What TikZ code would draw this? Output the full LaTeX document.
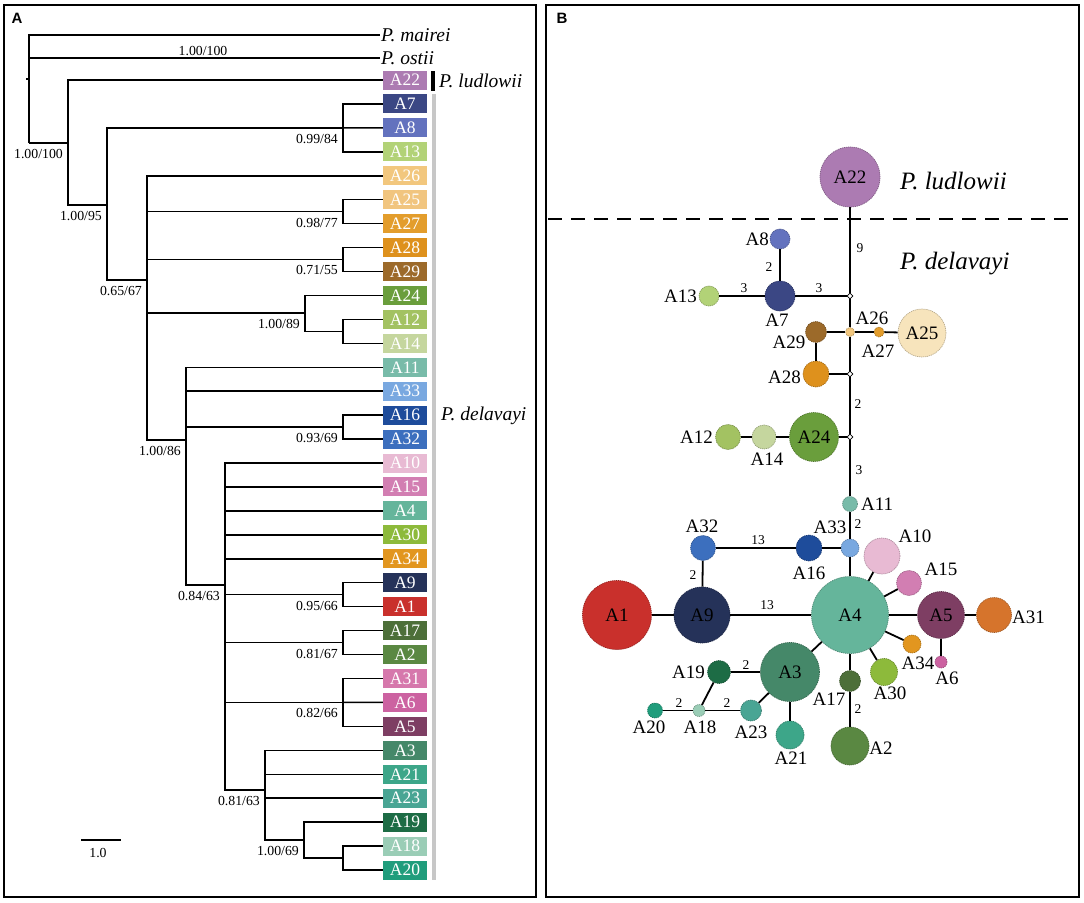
\documentclass[tikz,border=0pt]{standalone}
\usepackage{fontspec}
\setmainfont{Liberation Serif}
\newfontfamily\panelfont{Liberation Sans}
\usetikzlibrary{positioning,shapes.geometric}
% 单倍型颜色
\definecolor{c22}{HTML}{AC7BB2}
\definecolor{c7}{HTML}{3B4784}
\definecolor{c8}{HTML}{6372BE}
\definecolor{c13}{HTML}{B2D277}
\definecolor{c26}{HTML}{F2C77E}
\definecolor{c25}{HTML}{F7E4BC}
\definecolor{b25}{HTML}{F1C57F}
\definecolor{c27}{HTML}{E39D2C}
\definecolor{c28}{HTML}{DE911D}
\definecolor{c29}{HTML}{9C6A2A}
\definecolor{c24}{HTML}{6A9E3C}
\definecolor{c12}{HTML}{A3C262}
\definecolor{c14}{HTML}{C5D69E}
\definecolor{c11}{HTML}{78BBA9}
\definecolor{c33}{HTML}{79A8E0}
\definecolor{c16}{HTML}{1E4C9B}
\definecolor{c32}{HTML}{3C6FBE}
\definecolor{c10}{HTML}{E8BAD3}
\definecolor{c15}{HTML}{D27EB2}
\definecolor{c4}{HTML}{65B59B}
\definecolor{c30}{HTML}{8DBA3B}
\definecolor{c34}{HTML}{E2961F}
\definecolor{c9}{HTML}{253259}
\definecolor{c1}{HTML}{C9302C}
\definecolor{c17}{HTML}{4D6F39}
\definecolor{c2}{HTML}{5A8842}
\definecolor{c31}{HTML}{D6742C}
\definecolor{b31}{HTML}{D678AC}
\definecolor{c6}{HTML}{CC62A1}
\definecolor{c5}{HTML}{7E3E63}
\definecolor{c3}{HTML}{458869}
\definecolor{c21}{HTML}{3DA689}
\definecolor{c23}{HTML}{49A594}
\definecolor{c19}{HTML}{1D6C45}
\definecolor{c18}{HTML}{9ACDB6}
\definecolor{c20}{HTML}{209D7C}
\tikzset{
  tipbox/.style={minimum width=44pt, minimum height=19pt, inner sep=0pt, text=white, font=\fontsize{17.5}{17.5}\selectfont},
  bs/.style={anchor=east, xshift=-5pt, yshift=-11pt, inner sep=0pt, font=\fontsize{13.8}{14}\selectfont},
  sp/.style={anchor=west, inner sep=1pt, font=\fontsize{19.5}{19.5}\selectfont\itshape},
  bigsp/.style={anchor=west, inner sep=0pt, font=\fontsize{25}{25}\selectfont\itshape},
  hap/.style 2 args={circle, fill=#1, draw=#1!75!black, dash pattern=on 1.2pt off 0.8pt, line width=0.7pt, minimum size=#2, inner sep=0pt, font=\fontsize{19}{19}\selectfont},
  jun/.style={diamond, draw, fill=white, line width=0.6pt, minimum size=6pt, inner sep=0pt},
  hlab/.style={inner sep=0pt, font=\fontsize{19}{19}\selectfont},
  elab/.style={inner sep=0pt, font=\fontsize{13.5}{14}\selectfont},
  br/.style={line width=1.5pt},
  ed/.style={line width=1.8pt},
  panel/.style={line width=2pt},
}
\begin{document}
\begin{tikzpicture}[x=1pt, y=-1pt]
	\useasboundingbox (0,0) rectangle (1084,902);
	% 两个面板
	\draw [panel] (4,4.5) rectangle (536,897);
	\draw [panel] (546,4.5) rectangle (1079,897);
	\node [font=\panelfont\bfseries\fontsize{15}{15}\selectfont] (pA) at (17,18) {A};
	\node [font=\panelfont\bfseries\fontsize{15}{15}\selectfont] (pB) at (562,18) {B};
	% 系统发育树: 末端
	\node [sp] (mairei) at (380,35) {P. mairei};
	\node [sp] (ostii) at (380,58) {P. ostii};
	\foreach \n/\row/\col in {22/0/c22, 7/1/c7, 8/2/c8, 13/3/c13, 26/4/c26, 25/5/b25, 27/6/c27, 28/7/c28, 29/8/c29, 24/9/c24, 12/10/c12, 14/11/c14, 11/12/c11, 33/13/c33, 16/14/c16, 32/15/c32, 10/16/c10, 15/17/c15, 4/18/c4, 30/19/c30, 34/20/c34, 9/21/c9, 1/22/c1, 17/23/c17, 2/24/c2, 31/25/b31, 6/26/c6, 5/27/c5, 3/28/c3, 21/29/c21, 23/30/c23, 19/31/c19, 18/32/c18, 20/33/c20}
		\node [tipbox, fill=\col] (t\n) at (405,{80+23.94*\row}) {A\n};
	\fill [black] (431,71) rectangle (434.5,91);
	\fill [black!22] (431.5,94) rectangle (435.5,880);
	\node [sp] (ludl) at (438,81) {P. ludlowii};
	\node [sp] (dela) at (440,416) {P. delavayi};
	% 内部节点
	\coordinate (root) at (29,143);
	\coordinate (n1) at (68,143);
	\coordinate (n2) at (107,205);
	\coordinate (n3) at (147,280);
	\coordinate (n4) at (305,313);
	\coordinate (n5) at (186,440);
	\coordinate (n6) at (225,585);
	\coordinate (n7) at (265,790);
	\coordinate (n8) at (304,840);
	\coordinate (c1) at (343,127.9);
	\coordinate (c2) at (343,211.7);
	\coordinate (c3) at (343,259.5);
	\coordinate (c4) at (343,331.4);
	\coordinate (c5) at (343,427.1);
	\coordinate (c6) at (343,594.7);
	\coordinate (c7) at (343,642.6);
	\coordinate (c8) at (343,702.4);
	\coordinate (c9) at (343,858);
	% 枝
	\draw [br] (26,79) -- (29,79);
	\draw [br] (root) |- (mairei.west);
	\draw [br] (root) |- (ostii.west);
	\draw [br] (root) -- (n1);
	\draw [br] (n1) |- (t22.west);
	\draw [br] (n1) |- (n2);
	\draw [br] (n2) |- (c1);
	\draw [br] (n2) |- (n3);
	\draw [br] (c1) |- (t7.west);
	\draw [br] (c1) -- (t8.west);
	\draw [br] (c1) |- (t13.west);
	\draw [br] (n3) |- (t26.west);
	\draw [br] (n3) |- (c2);
	\draw [br] (n3) |- (c3);
	\draw [br] (n3) |- (n4);
	\draw [br] (n3) |- (n5);
	\draw [br] (c2) |- (t25.west);
	\draw [br] (c2) |- (t27.west);
	\draw [br] (c3) |- (t28.west);
	\draw [br] (c3) |- (t29.west);
	\draw [br] (n4) |- (t24.west);
	\draw [br] (n4) |- (c4);
	\draw [br] (c4) |- (t12.west);
	\draw [br] (c4) |- (t14.west);
	\draw [br] (n5) |- (t11.west);
	\draw [br] (n5) |- (t33.west);
	\draw [br] (n5) |- (c5);
	\draw [br] (n5) |- (n6);
	\draw [br] (c5) |- (t16.west);
	\draw [br] (c5) |- (t32.west);
	\foreach \n in {10,15,4,30,34}
		\draw [br] (n6) |- (t\n.west);
	\draw [br] (n6) |- (c6);
	\draw [br] (n6) |- (c7);
	\draw [br] (n6) |- (c8);
	\draw [br] (n6) |- (n7);
	\draw [br] (c6) |- (t9.west);
	\draw [br] (c6) |- (t1.west);
	\draw [br] (c7) |- (t17.west);
	\draw [br] (c7) |- (t2.west);
	\draw [br] (c8) |- (t31.west);
	\draw [br] (c8) -- (t6.west);
	\draw [br] (c8) |- (t5.west);
	\draw [br] (n7) |- (t3.west);
	\draw [br] (n7) |- (t21.west);
	\draw [br] (n7) |- (t23.west);
	\draw [br] (n7) |- (n8);
	\draw [br] (n8) |- (t19.west);
	\draw [br] (n8) |- (c9);
	\draw [br] (c9) |- (t18.west);
	\draw [br] (c9) |- (t20.west);
	% 支持率
	\node [font=\fontsize{13.8}{14}\selectfont, inner sep=0pt] (s0) at (203,51) {1.00/100};
	\node [bs] (s1) at (n1) {1.00/100};
	\node [bs] (s2) at (n2) {1.00/95};
	\node [bs] (s3) at (c1) {0.99/84};
	\node [bs] (s4) at (n3) {0.65/67};
	\node [bs] (s5) at (c2) {0.98/77};
	\node [bs] (s6) at (c3) {0.71/55};
	\node [bs] (s7) at (n4) {1.00/89};
	\node [bs] (s8) at (n5) {1.00/86};
	\node [bs] (s9) at (c5) {0.93/69};
	\node [bs] (s10) at (n6) {0.84/63};
	\node [bs] (s11) at (c6) {0.95/66};
	\node [bs] (s12) at (c7) {0.81/67};
	\node [bs] (s13) at (c8) {0.82/66};
	\node [bs] (s14) at (n7) {0.81/63};
	\node [bs] (s15) at (n8) {1.00/69};
	% 标尺
	\coordinate (sbl) at (81,840);
	\coordinate (sbr) at (121,840);
	\draw [br] (sbl) -- (sbr);
	\node [font=\fontsize{13.8}{14}\selectfont, inner sep=0pt] (sbt) at (98,853) {1.0};
	% 单倍型网络
	\coordinate (dl) at (548,219);
	\coordinate (dr) at (1077,219);
	\draw [line width=1.8pt, dash pattern=on 14pt off 9pt] (dl) -- (dr);
	\node [bigsp] (ludl2) at (900,181) {P. ludlowii};
	\node [bigsp] (dela2) at (900,264) {P. delavayi};
	\node [hap={c22}{60pt}] (A22) at (850,177) {A22};
	\node [hap={c8}{20pt}] (A8) at (780,239) {};
	\node [hap={c7}{30pt}] (A7) at (780,296) {};
	\node [hap={c13}{20pt}] (A13) at (709,296) {};
	\node [jun] (J1) at (850,296) {};
	\node [hap={c26}{9pt}] (A26) at (850,332) {};
	\node [hap={c29}{21pt}] (A29) at (816,332) {};
	\node [hap={c27}{10pt}] (A27) at (879,332) {};
	\node [hap={c25}{48pt}] (A25) at (922,333) {A25};
	\node [hap={c28}{26pt}] (A28) at (816,374) {};
	\node [jun] (J2) at (850,374) {};
	\node [hap={c24}{49pt}] (A24) at (814,437) {A24};
	\node [jun] (J3) at (850,437) {};
	\node [hap={c14}{24pt}] (A14) at (764,437) {};
	\node [hap={c12}{25pt}] (A12) at (728,437) {};
	\node [hap={c11}{15pt}] (A11) at (850,504) {};
	\node [hap={c33}{18pt}] (A33) at (850,548) {};
	\node [hap={c16}{26pt}] (A16) at (809,548) {};
	\node [hap={c32}{25pt}] (A32) at (703,548) {};
	\node [hap={c10}{36pt}] (A10) at (882,556) {};
	\node [hap={c15}{25pt}] (A15) at (909,583) {};
	\node [hap={c4}{77pt}] (A4) at (850,615) {A4};
	\node [hap={c1}{69pt}] (A1) at (617,615) {A1};
	\node [hap={c9}{56pt}] (A9) at (702,615) {A9};
	\node [hap={c5}{47pt}] (A5) at (941,615) {A5};
	\node [hap={c31}{35pt}] (A31) at (994,615) {};
	\node [hap={c34}{18pt}] (A34) at (912,644) {};
	\node [hap={c6}{12pt}] (A6) at (941,662) {};
	\node [hap={c30}{27pt}] (A30) at (884,672) {};
	\node [hap={c17}{21pt}] (A17) at (850,681) {};
	\node [hap={c2}{38pt}] (A2) at (850,746) {};
	\node [hap={c3}{59pt}] (A3) at (790,672) {A3};
	\node [hap={c21}{28pt}] (A21) at (790,735) {};
	\node [hap={c19}{23pt}] (A19) at (719,672) {};
	\node [hap={c23}{21pt}] (A23) at (751,710.5) {};
	\node [hap={c18}{12pt}] (A18) at (699,710.5) {};
	\node [hap={c20}{15pt}] (A20) at (655,710.5) {};
	% 连线
	\draw [ed] (A22) -- (J1);
	\draw [ed] (J1) -- (A7);
	\draw [ed] (A7) -- (A13);
	\draw [ed] (A7) -- (A8);
	\draw [ed] (J1) -- (A26);
	\draw [ed] (A26) -- (A29);
	\draw [ed] (A26) -- (A27);
	\draw [ed] (A27) -- (A25);
	\draw [ed] (A29) -- (A28);
	\draw [ed] (A28) -- (J2);
	\draw [ed] (A26) -- (J2);
	\draw [ed] (J2) -- (J3);
	\draw [ed] (J3) -- (A24);
	\draw [ed] (A24) -- (A14);
	\draw [ed] (A14) -- (A12);
	\draw [ed] (J3) -- (A11);
	\draw [ed] (A11) -- (A33);
	\draw [ed] (A33) -- (A16);
	\draw [ed] (A16) -- (A32);
	\draw [ed] (A32) -- (A9);
	\draw [ed] (A33) -- (A4);
	\draw [ed] (A1) -- (A9);
	\draw [ed] (A9) -- (A4);
	\draw [ed] (A4) -- (A10);
	\draw [ed] (A4) -- (A15);
	\draw [ed] (A4) -- (A5);
	\draw [ed] (A5) -- (A31);
	\draw [ed] (A5) -- (A6);
	\draw [ed] (A4) -- (A34);
	\draw [ed] (A4) -- (A30);
	\draw [ed] (A4) -- (A17);
	\draw [ed] (A17) -- (A2);
	\draw [ed] (A4) -- (A3);
	\draw [ed] (A3) -- (A21);
	\draw [ed] (A3) -- (A19);
	\draw [ed] (A3) -- (A23);
	\draw [ed] (A23) -- (A18);
	\draw [ed] (A18) -- (A20);
	\draw [ed] (A18) -- (A19);
	% 突变步数
	\node [elab] (e1) at (860,248) {9};
	\node [elab] (e2) at (769,267) {2};
	\node [elab] (e3) at (744,288) {3};
	\node [elab] (e4) at (819,288) {3};
	\node [elab] (e5) at (858,404) {2};
	\node [elab] (e6) at (859,470) {3};
	\node [elab] (e7) at (858,524) {2};
	\node [elab] (e8) at (758,540) {13};
	\node [elab] (e9) at (693,575) {2};
	\node [elab] (e10) at (767,605) {13};
	\node [elab] (e11) at (858,709) {2};
	\node [elab] (e12) at (746,665) {2};
	\node [elab] (e13) at (679,703) {2};
	\node [elab] (e14) at (727,703) {2};
	% 单倍型名称
	\node [hlab, anchor=east] (lA8) at (769,239) {A8};
	\node [hlab, anchor=east] (lA13) at (697,296) {A13};
	\node [hlab] (lA7) at (777,320) {A7};
	\node [hlab] (lA26) at (872,318) {A26};
	\node [hlab] (lA29) at (789,342) {A29};
	\node [hlab] (lA27) at (878,351) {A27};
	\node [hlab, anchor=east] (lA28) at (801,377) {A28};
	\node [hlab] (lA14) at (767,459) {A14};
	\node [hlab, anchor=east] (lA12) at (713,437) {A12};
	\node [hlab, anchor=west] (lA11) at (861,504) {A11};
	\node [hlab] (lA33) at (830,527) {A33};
	\node [hlab] (lA16) at (809,573) {A16};
	\node [hlab] (lA32) at (702,526) {A32};
	\node [hlab] (lA10) at (915,536) {A10};
	\node [hlab] (lA15) at (941,569) {A15};
	\node [hlab, anchor=west] (lA31) at (1012,617) {A31};
	\node [hlab] (lA34) at (918,663) {A34};
	\node [hlab] (lA6) at (947,678) {A6};
	\node [hlab] (lA30) at (890,693) {A30};
	\node [hlab] (lA17) at (829,699) {A17};
	\node [hlab] (lA2) at (881,748) {A2};
	\node [hlab] (lA21) at (791,758) {A21};
	\node [hlab, anchor=east] (lA19) at (705,672) {A19};
	\node [hlab] (lA23) at (751,732) {A23};
	\node [hlab] (lA18) at (700,727) {A18};
	\node [hlab] (lA20) at (649,727) {A20};
\end{tikzpicture}
\end{document}
